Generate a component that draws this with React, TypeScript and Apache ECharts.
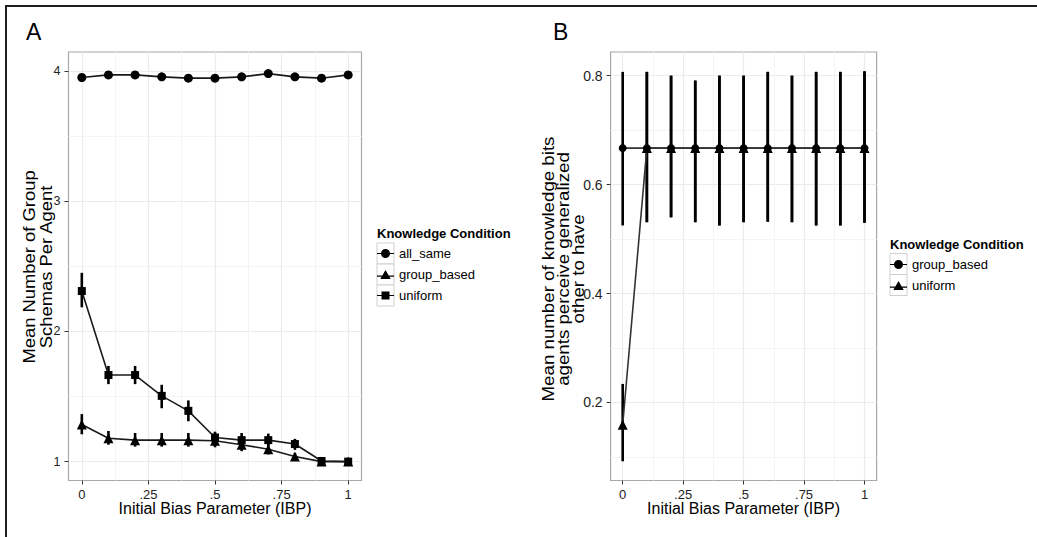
import React, { useEffect, useRef } from 'react';
import * as echarts from 'echarts';

// ---------- data ----------
const ibp = [0, 0.1, 0.2, 0.3, 0.4, 0.5, 0.6, 0.7, 0.8, 0.9, 1];
const xTicks = [0, 0.25, 0.5, 0.75, 1];
const xMinor = [0.125, 0.375, 0.625, 0.875];

// Panel A: Mean Number of Group Schemas Per Agent
const aYTicks = [1, 2, 3, 4];
const aYMinor = [1.5, 2.5, 3.5];
const aAllSame = [3.95, 3.97, 3.97, 3.955, 3.945, 3.945, 3.955, 3.98, 3.955, 3.945, 3.97];
const aAllSameLo = [3.94, 3.96, 3.96, 3.945, 3.935, 3.935, 3.945, 3.97, 3.945, 3.935, 3.96];
const aAllSameHi = [3.96, 3.98, 3.98, 3.965, 3.955, 3.955, 3.965, 3.99, 3.965, 3.955, 3.98];
const aGroup = [1.285, 1.18, 1.165, 1.165, 1.165, 1.16, 1.13, 1.095, 1.04, 1.0, 1.0];
const aGroupLo = [1.21, 1.13, 1.115, 1.115, 1.115, 1.11, 1.08, 1.055, 1.02, 0.995, 0.995];
const aGroupHi = [1.365, 1.235, 1.22, 1.22, 1.22, 1.215, 1.18, 1.14, 1.065, 1.005, 1.005];
const aUniform = [2.31, 1.665, 1.665, 1.505, 1.39, 1.185, 1.165, 1.165, 1.135, 1.005, 1.0];
const aUniformLo = [2.185, 1.595, 1.595, 1.41, 1.31, 1.14, 1.115, 1.12, 1.09, 0.995, 0.995];
const aUniformHi = [2.45, 1.735, 1.735, 1.59, 1.47, 1.23, 1.22, 1.215, 1.175, 1.015, 1.005];

// Panel B: Mean number of knowledge bits agents perceive generalized other to have
const bYTicks = [0.2, 0.4, 0.6, 0.8];
const bYMinor = [0.1, 0.3, 0.5, 0.7];
const bGroup = [0.667, 0.667, 0.667, 0.667, 0.667, 0.667, 0.667, 0.667, 0.667, 0.667, 0.667];
const bGroupLo = [0.525, 0.531, 0.54, 0.531, 0.525, 0.531, 0.532, 0.531, 0.525, 0.525, 0.53];
const bGroupHi = [0.807, 0.807, 0.8, 0.791, 0.8, 0.8, 0.807, 0.8, 0.807, 0.807, 0.808];
const bUniform = [0.159, 0.667, 0.667, 0.667, 0.667, 0.667, 0.667, 0.667, 0.667, 0.667, 0.667];
const bUniformLo = [0.092, 0.531, 0.54, 0.531, 0.525, 0.531, 0.532, 0.531, 0.525, 0.525, 0.53];
const bUniformHi = [0.234, 0.807, 0.8, 0.791, 0.8, 0.8, 0.807, 0.8, 0.807, 0.807, 0.808];

const legendA = ['all_same', 'group_based', 'uniform'];
const legendB = ['group_based', 'uniform'];
const titleALines = ['Mean Number of Group', 'Schemas Per Agent'];
const titleBLines = ['Mean number of knowledge bits', 'agents perceive generalized', 'other to have'];
const xTitle = 'Initial Bias Parameter (IBP)';
const legendTitle = 'Knowledge Condition';

// ---------- styling ----------
const FONT = '"Liberation Sans", Arial, Helvetica, sans-serif';
const MAJOR = '#ebebeb';
const MINOR = '#f4f4f4';

const iconCircle = 'path://M0,3.9H17V5.1H0Z M4,4.5A4.5,4.5,0,1,1,13,4.5A4.5,4.5,0,1,1,4,4.5Z';
const iconTriangle = 'path://M0,5.6H17V6.8H0Z M8.5,0L13.7,9L3.3,9Z';
const iconSquare = 'path://M0,3.9H17V5.1H0Z M4.5,0.5H12.5V8.5H4.5Z';

const fmtX = (v: number) => (v === 0 ? '0' : v === 1 ? '1' : String(v).replace(/^0/, ''));

function xAxes(gridIndex: number) {
  return [
    {
      type: 'value', gridIndex, min: -0.05, max: 1.05,
      axisLine: { show: false, onZero: false },
      axisTick: { show: true, customValues: xTicks, length: 4, lineStyle: { color: '#333', width: 1 } },
      axisLabel: { customValues: xTicks, formatter: fmtX, color: '#222', fontSize: 13, margin: 7, fontFamily: FONT, hideOverlap: false },
      splitLine: { show: true, lineStyle: { color: MAJOR, width: 1.2 } },
    },
    {
      type: 'value', gridIndex, min: -0.05, max: 1.05,
      axisLine: { show: false, onZero: false },
      axisTick: { show: false, customValues: xMinor },
      axisLabel: { show: false },
      splitLine: { show: true, lineStyle: { color: MINOR, width: 1 } },
    },
  ];
}

function yAxes(gridIndex: number, min: number, max: number, ticks: number[], minor: number[], fmt: (v: number) => string, fontSize: number) {
  return [
    {
      type: 'value', gridIndex, min, max,
      axisLine: { show: false, onZero: false },
      axisTick: { show: true, customValues: ticks, length: 4, lineStyle: { color: '#333', width: 1 } },
      axisLabel: { customValues: ticks, formatter: fmt, color: '#222', fontSize, margin: 8, fontFamily: FONT, hideOverlap: false },
      splitLine: { show: true, lineStyle: { color: MAJOR, width: 1.2 } },
    },
    {
      type: 'value', gridIndex, min, max,
      axisLine: { show: false, onZero: false },
      axisTick: { show: false, customValues: minor },
      axisLabel: { show: false },
      splitLine: { show: true, lineStyle: { color: MINOR, width: 1 } },
    },
  ];
}

function lineSeries(name: string, xAxisIndex: number, yAxisIndex: number, ys: number[], symbol: string, size: number, lineColor: string) {
  return {
    type: 'line', name, xAxisIndex, yAxisIndex,
    data: ibp.map((x, i) => [x, ys[i]]),
    symbol, symbolSize: size, showAllSymbol: true,
    lineStyle: { color: lineColor, width: 1.6 },
    itemStyle: { color: '#000' },
    emphasis: { disabled: true },
    z: 4,
  };
}

function errSeries(name: string, xAxisIndex: number, yAxisIndex: number, lo: number[], hi: number[]) {
  return {
    type: 'custom', name, xAxisIndex, yAxisIndex,
    data: ibp.map((x, i) => [x, lo[i], hi[i]]),
    encode: { x: 0, y: [1, 2] },
    renderItem: (_p: any, api: any) => {
      const a = api.coord([api.value(0), api.value(1)]);
      const b = api.coord([api.value(0), api.value(2)]);
      return { type: 'line', shape: { x1: a[0], y1: a[1], x2: b[0], y2: b[1] }, style: { stroke: '#000', lineWidth: 2.6 } };
    },
    z: 3,
  };
}

function keyBoxes(x: number, y: number, n: number) {
  const out: any[] = [];
  for (let i = 0; i < n; i++) {
    out.push({ type: 'rect', z: 1, shape: { x, y: y + i * 21, width: 17, height: 21 }, style: { fill: '#fff', stroke: '#cfcfcf', lineWidth: 1 } });
  }
  return out;
}

function vTitle(lines: string[], xs: number[], cy: number, fontSize: number, stretch: number) {
  return lines.map((t, i) => ({
    type: 'text', x: xs[i], y: cy, rotation: Math.PI / 2, scaleX: stretch,
    style: { text: t, fontSize, fontFamily: FONT, fill: '#000', textAlign: 'center', textVerticalAlign: 'middle' },
  }));
}

export default function App() {
  const ref = useRef<HTMLDivElement>(null);
  useEffect(() => {
    document.body.style.margin = '0';
    const chart = echarts.init(ref.current!, null, { renderer: 'svg' });
    const legendCommon = {
      orient: 'vertical', padding: 0, itemWidth: 17, itemHeight: 9, itemGap: 6,
      selectedMode: false, z: 5,
      textStyle: { fontSize: 13, color: '#000', lineHeight: 15, fontFamily: FONT },
    };
    const iconsA = [iconCircle, iconTriangle, iconSquare];
    const iconsB = [iconCircle, iconTriangle];
    const option: any = {
      animation: false,
      backgroundColor: '#fff',
      textStyle: { fontFamily: FONT },
      grid: [
        { left: 68.5, top: 52, width: 293, height: 428.5, show: true, backgroundColor: 'transparent', borderColor: '#a8a8a8', borderWidth: 1.2, outerBoundsMode: 'none' },
        { left: 610.6, top: 52, width: 266, height: 428.5, show: true, backgroundColor: 'transparent', borderColor: '#a8a8a8', borderWidth: 1.2, outerBoundsMode: 'none' },
      ],
      xAxis: [...xAxes(0), ...xAxes(1)],
      yAxis: [
        ...yAxes(0, 0.855, 4.146, aYTicks, aYMinor, (v: number) => String(v), 12.5),
        ...yAxes(1, 0.0567, 0.8435, bYTicks, bYMinor, (v: number) => v.toFixed(1), 14),
      ],
      legend: [
        { ...legendCommon, left: 377, top: 246, data: legendA.map((n, i) => ({ name: n, icon: iconsA[i] })) },
        { ...legendCommon, left: 890, top: 257, data: legendB.map((n, i) => ({ name: n, icon: iconsB[i] })) },
      ],
      series: [
        // Panel A
        errSeries('all_same_err', 0, 0, aAllSameLo, aAllSameHi),
        errSeries('group_based_err', 0, 0, aGroupLo, aGroupHi),
        errSeries('uniform_err', 0, 0, aUniformLo, aUniformHi),
        lineSeries('all_same', 0, 0, aAllSame, 'circle', 9, '#1a1a1a'),
        lineSeries('group_based', 0, 0, aGroup, 'triangle', 10, '#1a1a1a'),
        lineSeries('uniform', 0, 0, aUniform, 'rect', 8, '#1a1a1a'),
        // Panel B
        errSeries('B_group_based_err', 2, 2, bGroupLo, bGroupHi),
        errSeries('B_uniform_err', 2, 2, bUniformLo, bUniformHi),
        lineSeries('group_based', 2, 2, bGroup, 'circle', 8, '#333'),
        lineSeries('uniform', 2, 2, bUniform, 'triangle', 10, '#333'),
      ],
      graphic: [
        { type: 'rect', shape: { x: 5, y: 5, width: 2, height: 532 }, style: { fill: '#1e1e1e' } },
        { type: 'rect', shape: { x: 5, y: 5, width: 1032, height: 2 }, style: { fill: '#1e1e1e' } },
        { type: 'text', x: 26, y: 32, style: { text: 'A', fontSize: 23, fontFamily: FONT, fill: '#000', textVerticalAlign: 'middle' } },
        { type: 'text', x: 553, y: 32, style: { text: 'B', fontSize: 23, fontFamily: FONT, fill: '#000', textVerticalAlign: 'middle' } },
        { type: 'text', x: 215, y: 508, style: { text: xTitle, fontSize: 16, fontFamily: FONT, fill: '#000', textAlign: 'center', textVerticalAlign: 'middle' } },
        { type: 'text', x: 743.5, y: 508, style: { text: xTitle, fontSize: 16, fontFamily: FONT, fill: '#000', textAlign: 'center', textVerticalAlign: 'middle' } },
        ...vTitle(titleALines, [29.5, 46], 267, 16, 1.15),
        ...vTitle(titleBLines, [548, 563, 578], 269, 17, 1.1),
        { type: 'text', x: 377, y: 233, style: { text: legendTitle, fontSize: 13, fontWeight: 'bold', fontFamily: FONT, fill: '#000', textVerticalAlign: 'middle' } },
        { type: 'text', x: 890, y: 244, style: { text: legendTitle, fontSize: 13, fontWeight: 'bold', fontFamily: FONT, fill: '#000', textVerticalAlign: 'middle' } },
        ...keyBoxes(377, 243, 3),
        ...keyBoxes(890, 253.5, 2),
      ],
    };
    chart.setOption(option);
    return () => chart.dispose();
  }, []);
  return <div ref={ref} style={{ position: 'fixed', left: 0, top: 0, width: 1037, height: 537 }} />;
}
